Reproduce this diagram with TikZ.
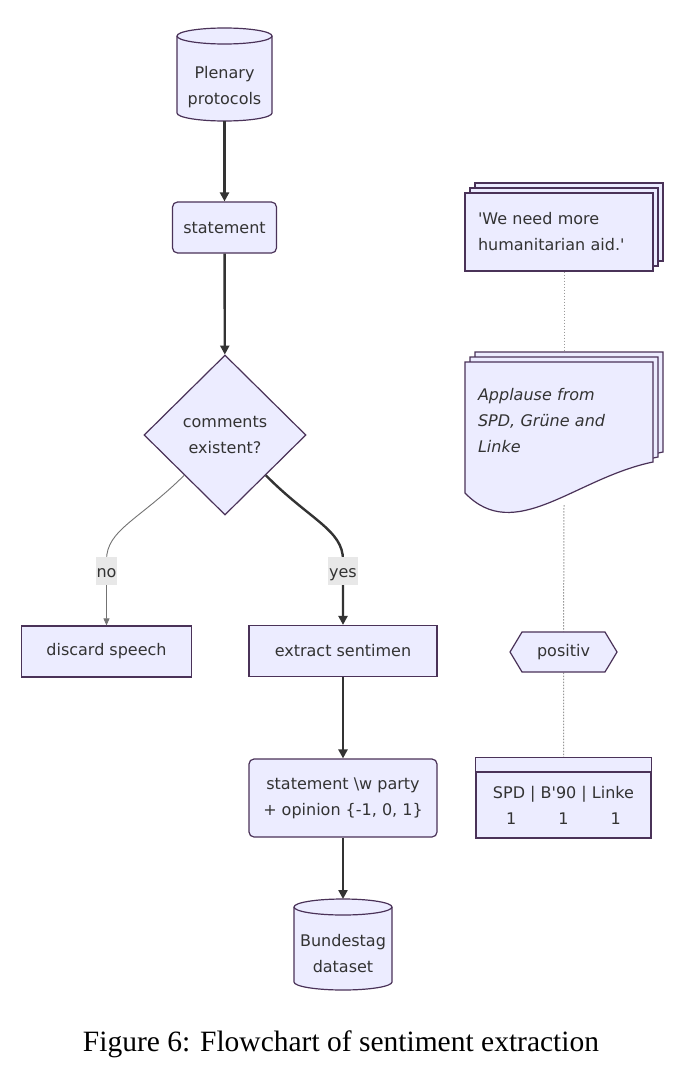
\documentclass[tikz,border=0pt]{standalone}
\usepackage{fontspec}
\setmainfont{DejaVu Sans}[ItalicFont={DejaVu Sans Oblique}]
\newfontfamily\captionfont{Liberation Serif}
\usepackage{tikz}
\usetikzlibrary{shapes,arrows.meta,positioning,shadows}
\pgfdeclarelayer{background}
\pgfsetlayers{background,main}
\definecolor{boxfill}{RGB}{236,236,255}
\definecolor{boxline}{RGB}{74,50,88}
\definecolor{txt}{RGB}{51,51,51}
\definecolor{lineclr}{RGB}{51,51,51}
\definecolor{labelbg}{RGB}{232,232,232}
\newcommand{\drawdrum}[2]{%
  \filldraw[fill=boxfill, draw=boxline, line width=1.2pt]
    ([yshift=-8pt]#1.north west) -- ([yshift=8pt]#1.south west)
    arc[start angle=180, end angle=360, x radius=#2, y radius=8pt]
    -- ([yshift=-8pt]#1.north east)
    arc[start angle=0, end angle=180, x radius=#2, y radius=8pt] -- cycle;
  \draw[draw=boxline, line width=1.2pt] ([yshift=-8pt]#1.north west)
    arc[start angle=180, end angle=360, x radius=#2, y radius=8pt];}

\begin{document}
\begin{tikzpicture}
    %% setup
    [
        x=1pt, y=-1pt,
        font=\fontsize{16}{26}\selectfont, text=txt,
        stepnode/.style={rectangle, draw=boxline, fill=boxfill, line width=1.2pt, minimum height=51pt, align=center},
        roundstep/.style={stepnode, rounded corners=5pt},
        drumnode/.style={minimum width=95pt, minimum height=93pt, inner sep=0pt, outer sep=0pt},
        drumtext/.style={align=center, yshift=-13pt},
        decisionnode/.style={diamond, draw=boxline, fill=boxfill, line width=1.2pt, minimum width=162pt, minimum height=160pt, inner sep=0pt, align=center},
        docnode/.style={rectangle, draw=boxline, fill=boxfill, line width=1.2pt, text width=162pt, inner xsep=13pt, align=left, minimum height=78pt,
            copy shadow={shadow xshift=10pt, shadow yshift=10pt, fill=boxfill, draw=boxline, line width=1.2pt},
            copy shadow={shadow xshift=5pt, shadow yshift=5pt, fill=boxfill, draw=boxline, line width=1.2pt}},
        docarea/.style={minimum width=188pt, minimum height=143pt, inner sep=0pt},
        doctext/.style={text width=162pt, align=left, font=\fontsize{16}{26}\selectfont\itshape, yshift=13pt},
        tagnode/.style={signal, signal to=east and west, signal pointer angle=118, draw=boxline, fill=boxfill, line width=1.2pt, minimum width=107pt, minimum height=40pt},
        tablenode/.style={rectangle, draw=boxline, fill=boxfill, line width=1.2pt, minimum width=175pt, minimum height=66pt, align=center},
        flow/.style={draw=lineclr, line width=2.4pt, -{Triangle[length=9pt, width=9pt]}},
        thinflow/.style={draw=gray!90!black, line width=0.9pt, -{Triangle[length=7pt, width=6pt]}},
        link/.style={draw=gray!80, line width=1pt, dash pattern=on 1.5pt off 1.5pt},
        edgelabel/.style={fill=labelbg, inner xsep=1pt, inner ysep=0.5pt, text height=20pt, text depth=7pt},
    ]
    \begin{pgfonlayer}{background}
        \fill[white] (0,0) rectangle (684,1073);
    \end{pgfonlayer}
    \useasboundingbox (0,0) rectangle (684,1073);

    %% Nodes
    \node [drumnode, label={[drumtext]center:{Plenary\\protocols}}] (plenary) at (224.5,74.5) {};
    \node [roundstep, minimum width=104pt] (statement) at (224.5,227.5) {statement};
    \node [decisionnode] (decide) at (225,435) {comments\\existent?};
    \node [stepnode, minimum width=170pt] (discard) at (106.5,651.5) {discard speech};
    \node [stepnode, minimum width=188pt] (extract) at (343,651) {extract sentimen};
    \node [roundstep, minimum width=188pt, minimum height=78pt] (opinion) at (343,798) {statement \textbackslash w party\\+ opinion \{-1, 0, 1\}};
    \node [drumnode, minimum width=98pt, minimum height=91pt, label={[drumtext, yshift=4pt]center:{Bundestag\\dataset}}] (dataset) at (343,944.5) {};

    \node [docnode] (quote) at (559,232) {\textquotesingle We need more\\humanitarian aid.\textquotesingle};
    \node [docarea, label={[doctext]center:{Applause from\\SPD, Grüne and\\Linke}}] (applause) at (559,433.5) {};
    \node [tagnode] (positiv) at (563.5,652) {positiv};
    \node [tablenode] (tally) at (563.5,805) {SPD | B\textquotesingle 90 | Linke\\1\hspace{42pt}1\hspace{42pt}1};
    \filldraw[fill=boxfill, draw=boxline, line width=1.2pt] (tally.north west) rectangle ([yshift=14pt]tally.north east);

    \node [font=\captionfont\fontsize{29.5}{34}\selectfont, text=black] (caption) at (341,1044) {Figure 6: Flowchart of sentiment extraction};

    %% Shapes and dotted links behind
    \begin{pgfonlayer}{background}
        \draw[link] ([xshift=5pt]quote.south) -- ([xshift=5pt]applause.north);
        \draw[link] ([xshift=5pt]applause.south) -- (positiv);
        \draw[link] (positiv) -- (tally);
        \drawdrum{plenary}{47.5pt}
        \drawdrum{dataset}{49pt}
        \foreach \s in {10,5,0}
            \filldraw[fill=boxfill, draw=boxline, line width=1.2pt, shift={(\s,-\s)}]
                (465,362) -- (653,362) -- (653,462) .. controls (575,478) and (515,545) .. (465,493) -- cycle;
    \end{pgfonlayer}

    %% Lines
    \draw[flow] (plenary) -- (statement);
    \draw[flow] (statement) -- (decide);
    \draw[thinflow] (decide.south west) .. controls (139,520) and (106.5,530) .. (106.5,560) -- node[edgelabel, pos=0.17] {no} (discard.north);
    \draw[flow] (decide.south east) .. controls (310,520) and (343,530) .. (343,560) -- node[edgelabel, pos=0.17] {yes} (extract.north);
    \draw[flow] (extract) -- (opinion);
    \draw[flow] (opinion) -- (dataset);
\end{tikzpicture}
\end{document}
